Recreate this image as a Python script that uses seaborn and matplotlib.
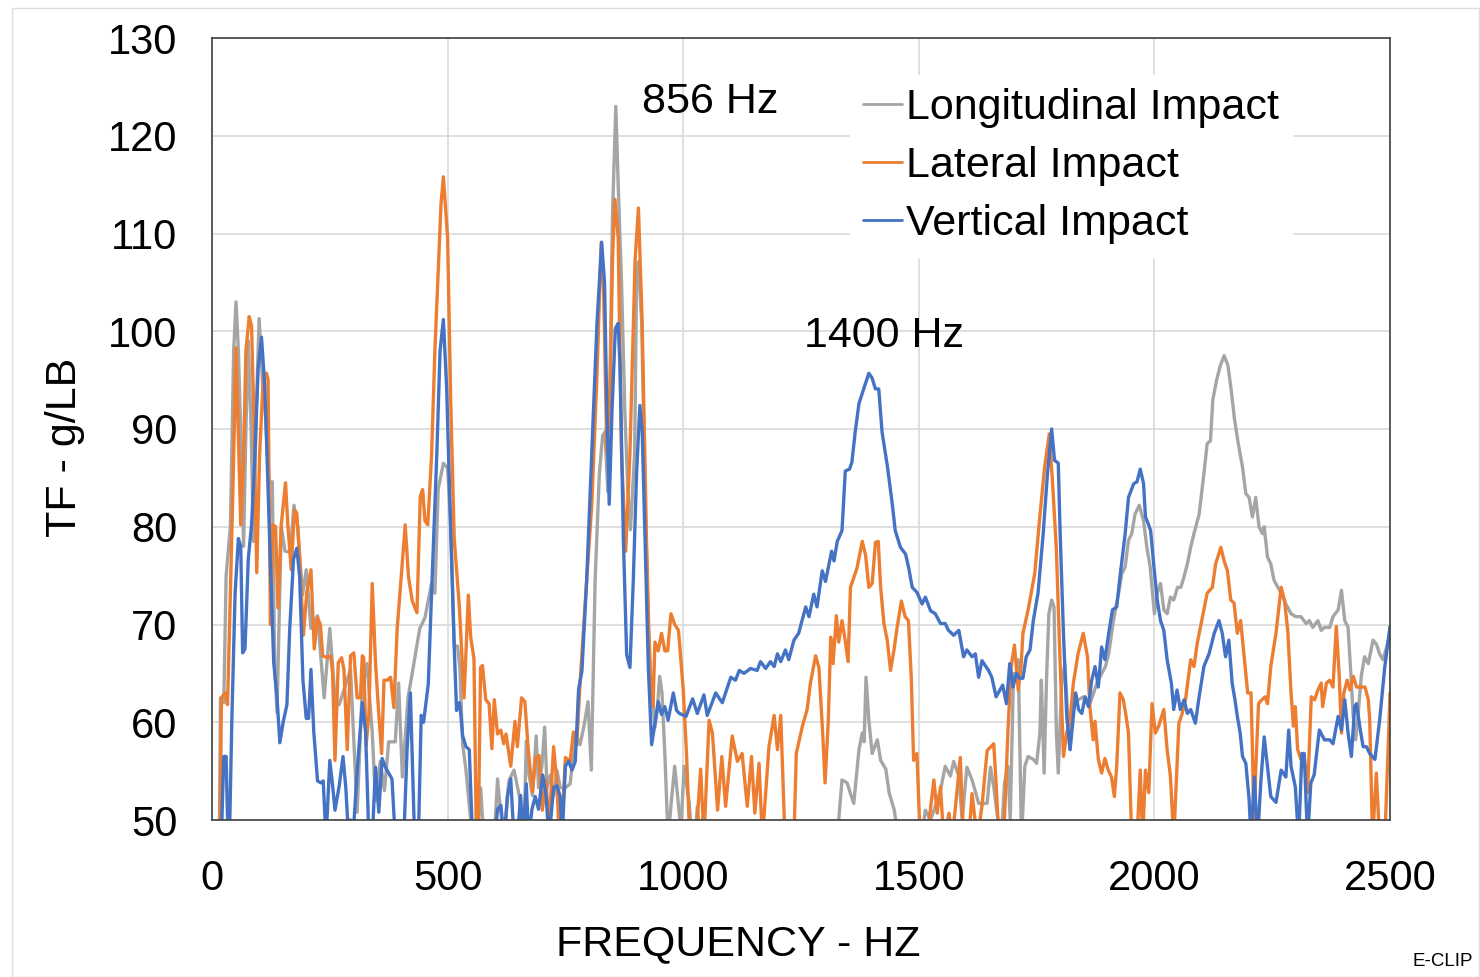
import matplotlib
matplotlib.use("Agg")
import matplotlib.pyplot as plt
import seaborn as sns
from matplotlib.patches import Rectangle

# ---------------- data ----------------
long_hz = [10, 16, 18, 25, 30, 39, 46, 51, 56, 62, 67, 72, 77, 83, 88, 94, 100, 107, 114, 121, 128, 133, 138,
           147, 155, 166, 174, 182, 192, 200, 210, 224, 238, 250, 262, 270, 294, 308, 319, 329, 340, 347, 357,
           366, 375, 389, 396, 404, 416, 431, 441, 452, 466, 473, 480, 491, 500, 507, 514, 521, 526, 532, 539,
           546, 553, 563, 570, 577, 599, 606, 611, 620, 630, 641, 652, 662, 667, 673, 680, 688, 693, 700, 706,
           711, 718, 725, 732, 739, 750, 760, 767, 774, 781, 789, 798, 805, 813, 822, 829, 834, 840, 845, 850,
           857, 862, 869, 876, 883, 888, 897, 901, 905, 912, 919, 926, 933, 940, 945, 950, 955, 961, 968, 975,
           982, 988, 995, 1002, 1009, 1013, 1018, 1025, 1030, 1036, 1316, 1330, 1337, 1348, 1355, 1362, 1373,
           1380, 1384, 1388, 1394, 1401, 1412, 1419, 1430, 1437, 1448, 1454, 1465, 1475, 1505, 1514, 1525, 1535,
           1546, 1556, 1567, 1574, 1585, 1592, 1602, 1613, 1627, 1645, 1652, 1659, 1666, 1675, 1682, 1689, 1694,
           1701, 1706, 1711, 1718, 1725, 1732, 1743, 1750, 1757, 1760, 1766, 1771, 1776, 1782, 1787, 1792, 1796,
           1803, 1810, 1816, 1821, 1828, 1839, 1849, 1856, 1864, 1871, 1878, 1885, 1896, 1903, 1913, 1924, 1931,
           1938, 1945, 1952, 1959, 1968, 1977, 1984, 1991, 2000, 2006, 2013, 2020, 2027, 2034, 2041, 2049, 2056,
           2063, 2070, 2077, 2084, 2095, 2105, 2112, 2119, 2124, 2132, 2140, 2148, 2156, 2163, 2170, 2178, 2187,
           2194, 2201, 2208, 2215, 2222, 2229, 2233, 2240, 2247, 2254, 2262, 2269, 2279, 2290, 2300, 2311, 2322,
           2329, 2336, 2347, 2354, 2361, 2372, 2379, 2390, 2397, 2404, 2411, 2416, 2422, 2427, 2432, 2439, 2446,
           2454, 2464, 2471, 2478, 2485, 2493, 2500]
long_tf = [45, 50, 62.5, 62, 75, 80, 98, 103, 98, 88, 78, 90, 99, 90, 78.5, 92, 101.3, 95, 91, 84.5, 84.6, 66, 61,
           80, 77.5, 77.4, 82.2, 80, 73, 75.6, 69.6, 70.9, 62.5, 69.6, 61.8, 61.8, 65.4, 50.8, 63.5, 66, 59, 52, 56,
           53, 58, 58, 64, 54.4, 62.5, 66.8, 69.6, 70.7, 74.2, 73.2, 83.8, 86.5, 86, 80, 67.8, 67.8, 65.6, 57.7, 55.1,
           51.5, 48, 48, 53.3, 48, 48, 54.2, 51.5, 48, 54, 55.1, 52.5, 48, 58.1, 54.6, 52.5, 58.6, 53.3, 55.5, 59.5,
           53.3, 54.6, 52.5, 55.1, 53.3, 53.3, 53.7, 56.8, 58.6, 57.7, 59.5, 62.1, 55.1, 74.4, 85.4, 89.3, 89.7, 83.6,
           96.4, 112, 123, 115, 105.2, 92, 83.2, 79.7, 87.6, 105.2, 107.1, 100.8, 83.2, 70, 63.4, 59.5, 61.3, 64.7,
           63, 56.8, 48, 52, 55.5, 52.5, 49, 55.5, 53, 51.7, 48, 48, 51.4, 48, 48, 50, 54.1, 53.8, 52.7, 51.7, 57.2,
           58.9, 58, 64.6, 60.2, 56.8, 58.2, 56.1, 55.2, 52.8, 51, 49, 49.5, 48, 48, 51, 50, 51.4, 53, 55.5, 54.5,
           56, 54.5, 50, 55.4, 54.1, 51.7, 51.7, 55.4, 53.4, 50.7, 48, 53.8, 55.5, 50, 65, 64.3, 66.4, 48, 55.5,
           56.5, 56.2, 55.8, 58.9, 64.3, 54.8, 64.3, 71.1, 72.5, 71.8, 58.9, 54.8, 63.8, 66, 60.6, 57.2, 62.6, 62.3,
           62.6, 62, 62, 63, 64, 64.7, 65.7, 67, 70.4, 73.2, 75.2, 75.9, 78.6, 79.3, 81.3, 82.2, 80.6, 77.9, 75.9,
           71.1, 73.2, 74.2, 71.5, 71.1, 72.8, 72.5, 73.8, 73.8, 74.9, 76.2, 77.9, 79.3, 81.3, 85.4, 88.5, 88.8, 93,
           95, 96.5, 97.5, 96.5, 94, 91, 88.5, 86.1, 83.4, 83, 81, 83, 80, 79.3, 80, 76.9, 76.2, 74.5, 73.8, 73.2,
           72.1, 71.1, 70.8, 70.8, 70.1, 70.4, 69.7, 70.4, 69.4, 69.7, 69.7, 70.8, 71.5, 73.5, 70.4, 69.7, 65.7,
           60.6, 58.2, 60.6, 64.7, 66.7, 66, 68.4, 68, 67, 66.4, 67.7, 69.1]

lat_hz = [10, 17, 20, 28, 33, 39, 46, 51, 56, 61, 67, 72, 79, 84, 89, 95, 101, 109, 116, 119, 124, 129, 135, 140,
          147, 156, 161, 168, 175, 180, 186, 194, 201, 210, 217, 224, 230, 235, 245, 252, 256, 261, 268, 275, 280,
          287, 294, 301, 308, 315, 319, 322, 327, 333, 340, 347, 354, 360, 365, 372, 379, 386, 393, 400, 410, 417,
          425, 435, 442, 447, 452, 458, 466, 473, 480, 486, 491, 500, 507, 514, 525, 535, 544, 549, 556, 561, 565,
          570, 574, 581, 588, 594, 599, 606, 613, 619, 624, 634, 643, 648, 657, 664, 671, 680, 687, 694, 701, 709,
          715, 725, 732, 737, 741, 750, 760, 767, 774, 782, 792, 806, 817, 826, 831, 838, 845, 850, 855, 862, 869,
          878, 887, 898, 905, 913, 922, 929, 936, 940, 947, 954, 961, 967, 974, 982, 990, 1000, 1007, 1014, 1027,
          1037, 1044, 1055, 1062, 1073, 1082, 1090, 1104, 1115, 1125, 1136, 1145, 1152, 1161, 1168, 1182, 1193,
          1200, 1207, 1216, 1235, 1240, 1253, 1263, 1270, 1281, 1288, 1296, 1301, 1308, 1313, 1318, 1325, 1330,
          1337, 1344, 1350, 1355, 1362, 1369, 1380, 1387, 1394, 1401, 1408, 1414, 1419, 1426, 1433, 1440, 1447,
          1454, 1463, 1471, 1478, 1484, 1489, 1496, 1503, 1517, 1532, 1539, 1546, 1553, 1564, 1571, 1588, 1595,
          1606, 1613, 1624, 1634, 1645, 1659, 1664, 1670, 1680, 1689, 1696, 1703, 1711, 1717, 1721, 1732, 1746,
          1756, 1767, 1777, 1784, 1792, 1799, 1807, 1814, 1821, 1828, 1838, 1849, 1858, 1863, 1870, 1874, 1881,
          1888, 1895, 1902, 1909, 1915, 1920, 1927, 1934, 1939, 1945, 1952, 1963, 1970, 1975, 1981, 1988, 1995,
          2002, 2009, 2020, 2027, 2034, 2041, 2052, 2059, 2066, 2077, 2084, 2091, 2102, 2112, 2123, 2130, 2141,
          2148, 2155, 2162, 2169, 2176, 2183, 2190, 2198, 2205, 2208, 2212, 2215, 2221, 2228, 2235, 2240, 2247,
          2258, 2269, 2276, 2283, 2290, 2295, 2299, 2304, 2311, 2318, 2325, 2333, 2340, 2347, 2354, 2357, 2365,
          2372, 2379, 2386, 2392, 2397, 2402, 2409, 2415, 2422, 2429, 2436, 2447, 2454, 2457, 2463, 2471, 2478,
          2489, 2496, 2500]
lat_tf = [45, 48, 62.5, 63, 61.8, 73.2, 87.3, 98.3, 89.1, 80.2, 87.3, 98, 101.5, 100.5, 90.9, 75.3, 87.3, 95.5,
          95.7, 95, 70, 80.2, 80, 71.7, 80.2, 84.5, 80.2, 75.6, 81.7, 81.4, 76.7, 68.9, 73.2, 75.6, 67.5, 70.7, 70,
          66.8, 66.6, 66.8, 65, 56.1, 66.1, 66.6, 65.4, 57.2, 66.8, 67.1, 62.5, 62.5, 66.8, 66.6, 57.6, 60.8, 74.2,
          66.1, 60.8, 56.8, 64.3, 64.3, 64.6, 61.5, 69.6, 73.9, 80.2, 74.9, 72.4, 71.2, 83.1, 83.8, 80.6, 80.2,
          87.3, 98, 106, 113, 115.8, 109.6, 92, 78.8, 71.8, 62.5, 73, 68.7, 66.5, 48, 48, 65.6, 65.8, 62.3, 61.9,
          57.3, 62.3, 58.8, 59.2, 57.8, 58.8, 55.5, 60.1, 57.5, 62.5, 62.1, 57.3, 52.9, 56.4, 56.6, 51, 54, 49,
          57.5, 53.7, 48, 48, 56.4, 56, 59, 57.7, 64.7, 72.2, 82.3, 95.5, 109.1, 104.3, 87.6, 94.2, 107.4, 113.5,
          109.6, 87.6, 77.5, 87.6, 107.4, 112.6, 100.8, 78.8, 65.6, 61.6, 68.2, 67.3, 69.1, 67.3, 67.3, 71.1, 70,
          69.4, 63.4, 56.8, 48, 48, 55.2, 48, 60.2, 58.9, 51, 56.5, 51.4, 58.6, 56, 56.8, 51.4, 56.5, 50.7, 55.8,
          48, 57.5, 60.7, 57.2, 60.7, 48, 48, 56.8, 59.6, 61.3, 64, 66.8, 65.6, 58.9, 53.8, 60.2, 68.7, 66, 70.9,
          68.2, 70.4, 68.3, 66.2, 73.8, 74.8, 75.8, 78.5, 77.1, 73.8, 74.2, 78.4, 78.5, 73.8, 70.1, 68.4, 65.3,
          67.3, 69.7, 72.4, 70.8, 70.4, 64.6, 56.1, 56.8, 48, 48, 54.1, 50.7, 53.4, 48, 50.7, 48, 56.4, 48, 48,
          52.7, 48, 51.4, 57.1, 57.8, 53.8, 48, 48, 58.9, 65.7, 67.9, 63.3, 65.7, 69.1, 71.5, 75.2, 80.6, 86.1,
          89.5, 84.4, 77.6, 67.4, 56.5, 58.9, 60.2, 64, 67, 69.1, 66.7, 61.6, 58.2, 60.1, 56.2, 54.8, 56.3, 55.1,
          54.4, 52.4, 55.5, 63, 62.3, 60.9, 58.9, 48, 48, 55.1, 48, 55.1, 52.8, 61.9, 58.9, 59.6, 61.3, 57.2, 54.5,
          48, 59.9, 60.9, 62.3, 66.4, 65.7, 68.1, 70.8, 73.2, 73.8, 76.2, 77.9, 76.5, 75.5, 72.5, 72.2, 69.1, 70.4,
          67, 63, 63, 57.2, 48, 55.1, 61.9, 62.3, 62.6, 61.9, 65.7, 69.1, 73.8, 72.5, 69.4, 63, 59.6, 61.6, 57.2,
          56.2, 56.5, 52.8, 62.6, 62.3, 63.3, 64, 61.6, 64, 64.3, 63.6, 69.8, 65, 58.9, 63, 64.3, 63.3, 64.7, 63.6,
          63.6, 63.6, 62.3, 60.2, 48, 54.8, 48, 48, 57.2, 63]

vert_hz = [15, 21, 25, 30, 33, 37, 42, 49, 56, 61, 65, 70, 77, 84, 91, 98, 105, 112, 119, 126, 131, 138, 144, 151,
           159, 165, 173, 180, 186, 193, 200, 205, 210, 216, 224, 231, 236, 242, 250, 256, 261, 270, 278, 284, 290,
           294, 299, 308, 319, 326, 333, 340, 347, 354, 361, 368, 375, 382, 389, 407, 414, 421, 430, 438, 444, 449,
           459, 466, 477, 484, 491, 498, 507, 514, 519, 525, 528, 532, 539, 546, 553, 600, 606, 613, 620, 627, 634,
           641, 648, 655, 660, 667, 672, 679, 686, 693, 702, 709, 715, 725, 732, 739, 743, 750, 757, 764, 771, 778,
           785, 795, 806, 817, 827, 833, 838, 843, 849, 856, 862, 866, 873, 880, 887, 894, 901, 908, 913, 919, 926,
           933, 940, 947, 954, 961, 968, 979, 986, 992, 1006, 1020, 1030, 1044, 1051, 1069, 1083, 1101, 1111, 1119,
           1129, 1143, 1157, 1164, 1175, 1185, 1193, 1200, 1207, 1217, 1224, 1235, 1245, 1260, 1267, 1277, 1284,
           1295, 1302, 1315, 1320, 1327, 1337, 1344, 1353, 1358, 1365, 1373, 1383, 1394, 1401, 1408, 1415, 1422,
           1433, 1443, 1450, 1461, 1472, 1479, 1486, 1496, 1507, 1514, 1525, 1535, 1546, 1556, 1563, 1574, 1585,
           1595, 1602, 1613, 1620, 1627, 1634, 1648, 1655, 1664, 1678, 1686, 1693, 1700, 1707, 1714, 1721, 1728,
           1736, 1743, 1753, 1764, 1773, 1782, 1788, 1796, 1800, 1807, 1814, 1821, 1828, 1833, 1839, 1846, 1853,
           1860, 1867, 1874, 1881, 1888, 1895, 1903, 1911, 1920, 1927, 1938, 1945, 1956, 1963, 1970, 1977, 1981,
           1987, 1992, 1999, 2006, 2013, 2020, 2027, 2036, 2041, 2048, 2055, 2063, 2070, 2077, 2087, 2094, 2105,
           2116, 2127, 2137, 2144, 2151, 2158, 2165, 2171, 2176, 2182, 2187, 2194, 2201, 2205, 2212, 2219, 2226,
           2233, 2240, 2247, 2258, 2269, 2279, 2285, 2290, 2299, 2306, 2313, 2318, 2325, 2332, 2339, 2350, 2361,
           2372, 2379, 2390, 2397, 2404, 2411, 2418, 2425, 2429, 2437, 2443, 2450, 2457, 2468, 2478, 2489, 2500]
vert_tf = [48, 50, 56.5, 56.5, 50, 48, 60, 73.2, 78.8, 78, 67.1, 67.5, 76.7, 80.2, 87.3, 96.2, 99.4, 94.4, 83.8,
           73.2, 66.1, 62.5, 57.9, 60, 61.8, 69.6, 76.7, 77.8, 74.9, 64.3, 60.4, 60.4, 65.4, 59, 54, 53.8, 54, 48,
           56.1, 53.5, 51, 53.5, 56.5, 53.3, 48, 50, 48, 55, 62, 59, 48, 48, 55.4, 50.8, 56.3, 55.4, 54.8, 54.2, 48,
           48, 57.2, 63, 48, 48, 60.7, 60, 63.9, 73.2, 87.3, 98, 101.2, 94.2, 78.8, 67.8, 61.2, 62, 60.8, 58.6, 57.5,
           57.2, 48, 48, 51.1, 51.5, 48, 52.5, 54.2, 48, 48, 52.5, 48, 53.7, 48, 51.1, 52.4, 51.1, 54.6, 52.5, 48,
           53.3, 53.5, 52.4, 48, 55.5, 56, 55.1, 56, 63.4, 65.2, 74.4, 87.6, 100.8, 109.1, 105, 92, 82.3, 92, 100.3,
           100.8, 96.4, 78.8, 66.9, 65.6, 74.4, 85.4, 92.4, 89.7, 78.8, 65.6, 57.7, 59.9, 62.1, 60.8, 61.6, 60.2, 63,
           61.2, 60.9, 60.6, 62.4, 60.9, 62.8, 60.7, 63, 62, 64.6, 64.3, 65.3, 65, 65.5, 65.3, 66.2, 65.5, 66.2,
           65.7, 67, 66.2, 67.4, 66.4, 68.4, 69.1, 71.8, 70.8, 73.1, 71.8, 75.5, 74.4, 77.5, 76.5, 78.5, 79.6, 85.7,
           85.9, 86.6, 89.7, 92.6, 94.1, 95.7, 95.2, 94.1, 94.1, 89.7, 86.3, 82.6, 79.6, 77.9, 77.2, 75.7, 73.8,
           73.3, 72.1, 72.8, 71.4, 71.1, 70.1, 70.1, 69.4, 68.9, 69.4, 66.7, 67.4, 66.7, 67, 64.6, 66.3, 65.3, 64.6,
           62.6, 63.8, 61.9, 66, 63.6, 65, 64.5, 64.5, 66.7, 67.4, 70.4, 73.2, 79.3, 85.4, 90, 86.8, 86.5, 79.3,
           69.1, 60.6, 57.2, 60.6, 63, 61.3, 60.9, 62.6, 61.6, 64.3, 65.7, 63.6, 67.7, 66.4, 69.1, 71.5, 71.8, 74.9,
           79.3, 83, 84.4, 84.6, 85.9, 84.4, 81, 80.3, 79.6, 75.9, 72.5, 70.4, 69.4, 66.4, 64, 61.3, 63.3, 61.3,
           62.3, 60.9, 61.3, 59.9, 62.3, 65.7, 67, 69.1, 70.4, 69.1, 66.7, 68.4, 64, 62.3, 60.6, 58.9, 56.5, 55.8,
           52.1, 48, 54.4, 48, 54, 58.5, 55.5, 52.4, 51.8, 55.1, 54.4, 59.2, 55.5, 53.4, 48, 56.8, 56.8, 48, 53.8,
           54.6, 59.2, 58.2, 58.2, 57.8, 60.6, 59.2, 62.3, 58.9, 56.5, 61.6, 61.9, 59.2, 57.5, 57.5, 56.8, 56.2,
           60.2, 65.7, 69.8]

series_names = ["Longitudinal Impact", "Lateral Impact", "Vertical Impact"]
series_colors = ["#A5A5A5", "#ED7D31", "#4472C4"]
x_ticks = [0, 500, 1000, 1500, 2000, 2500]
y_ticks = [50, 60, 70, 80, 90, 100, 110, 120, 130]
annotations = [("856 Hz", 1057, 123.5), ("1400 Hz", 1426, 99.5)]

# ---------------- styling ----------------
sns.set_style("whitegrid")
plt.rcParams["font.family"] = ["Liberation Sans", "DejaVu Sans"]
plt.rcParams["text.color"] = "black"
plt.rcParams["axes.labelcolor"] = "black"
plt.rcParams["xtick.color"] = "black"
plt.rcParams["ytick.color"] = "black"

fig = plt.figure(figsize=(14.8, 9.77), dpi=100)
fig.patch.set_facecolor("white")
fig.patches.append(Rectangle((12 / 1480, 0.0), 1 - 12 / 1480 - 0.0005, 1 - 8 / 977,
                             transform=fig.transFigure, fill=False, edgecolor="#DDDDDD", linewidth=1.0))

ax = fig.add_axes([212 / 1480, 1 - 820 / 977, (1390 - 212) / 1480, (820 - 38) / 977])

for (hz, tf), name, col in zip([(long_hz, long_tf), (lat_hz, lat_tf), (vert_hz, vert_tf)],
                               series_names, series_colors):
    sns.lineplot(x=hz, y=tf, ax=ax, color=col, linewidth=2.4, label=name, estimator=None, sort=False)

ax.set_xlim(0, 2500)
ax.set_ylim(50, 130)
ax.set_xticks(x_ticks)
ax.set_yticks(y_ticks)
ax.grid(True, color="#D9D9D9", linewidth=1.2)
ax.set_axisbelow(True)
for s in ax.spines.values():
    s.set_visible(True)
    s.set_color("#404040")
    s.set_linewidth(1.2)
ax.tick_params(axis="both", length=0, labelsize=30, colors="black")
ax.tick_params(axis="y", pad=25)
ax.tick_params(axis="x", pad=28)
ax.set_xlabel("")
ax.set_ylabel("")

fig.text(738 / 1480, 1 - 944 / 977, "FREQUENCY - HZ", ha="center", va="center", fontsize=31, color="black")
fig.text(65 / 1480, 1 - 447 / 977, "TF - g/LB", ha="center", va="center", rotation=90, fontsize=31,
         color="black")
fig.text(1443 / 1480, 1 - 961 / 977, "E-CLIP", ha="center", va="center", fontsize=13.5, color="black")

for txt, xv, yv in annotations:
    ax.text(xv, yv, txt, ha="center", va="center", fontsize=31, color="black")

leg = ax.legend(loc="upper left", bbox_to_anchor=((850 - 212) / 1178, 1 - (75 - 38) / 782),
                fontsize=31, frameon=True, handlelength=0.9, handletextpad=0.1, labelspacing=0.42,
                borderpad=0.3, borderaxespad=0.0)
leg.get_frame().set_facecolor("white")
leg.get_frame().set_edgecolor("white")
leg.get_frame().set_alpha(1.0)
for t in leg.get_texts():
    t.set_color("black")
for line in leg.get_lines():
    line.set_linewidth(2.0)

fig.savefig("out.png", dpi=100)
